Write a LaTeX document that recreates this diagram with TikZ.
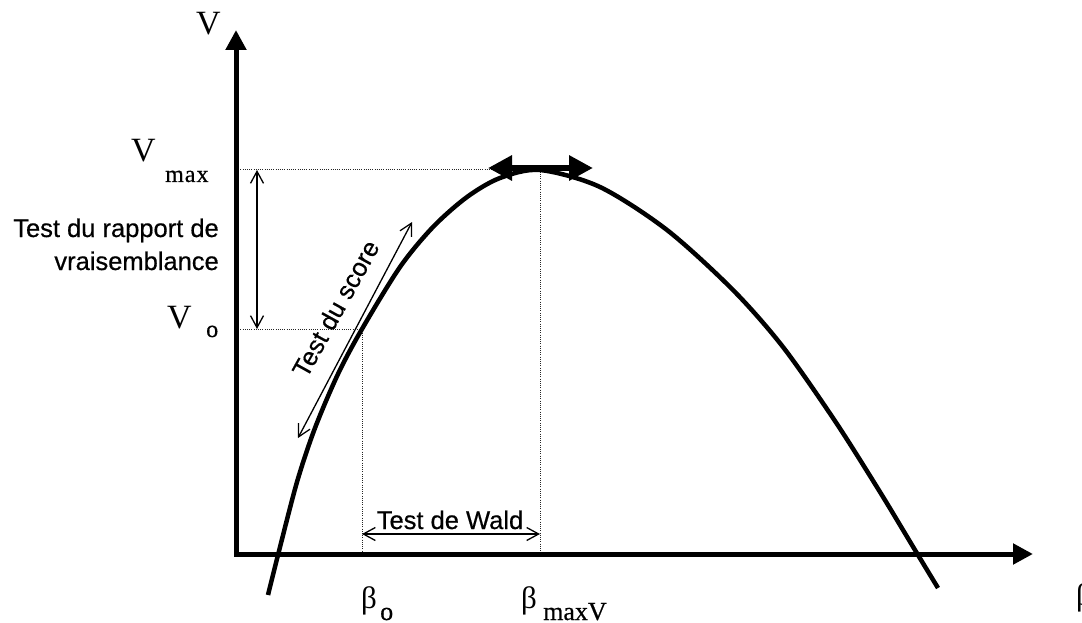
\documentclass[tikz,border=0pt]{standalone}
\usepackage{fontspec}
\setmainfont{Liberation Serif}
\newfontfamily\arialfont[FakeBold=0.5]{Liberation Sans}
\newfontfamily\subfont[FakeBold=0.6]{Liberation Serif}
\usetikzlibrary{arrows.meta}
\begin{document}
\begin{tikzpicture}[x=1pt,y=-1pt,
  axis/.style={line width=5pt, line join=miter,
    {Triangle[length=20pt,width=20pt]}-{Triangle[length=20pt,width=20pt]}},
  curveline/.style={line width=4.5pt, line cap=butt},
  guide/.style={line width=1pt, dash pattern=on 1pt off 1.2pt, black!85},
  thinarrow/.style={line width=1.3pt,
    {Straight Barb[length=12pt,width=13pt]}-{Straight Barb[length=12pt,width=13pt]}},
  thickarrow/.style={line width=6pt,
    {Triangle[length=24pt,width=24pt]}-{Triangle[length=24pt,width=24pt]}},
  biglab/.style={inner sep=0pt, font=\fontsize{34}{40}\selectfont},
  betalab/.style={inner sep=0pt, font=\fontsize{31}{36}\selectfont},
  sublab/.style={inner sep=0pt, font=\subfont\fontsize{24}{28}\selectfont},
  bsublab/.style={inner sep=0pt, font=\subfont\fontsize{26}{30}\selectfont},
  sanslab/.style={inner sep=0pt, font=\arialfont\fontsize{25.5}{30}\selectfont}
]
\useasboundingbox (0,0) rectangle (1082,623);

% key coordinates
\coordinate (ytip) at (236,30);
\coordinate (orig) at (236,554);
\coordinate (xtip) at (1033,554);
\coordinate (ymax) at (236,170);
\coordinate (yo) at (236,329);
\coordinate (peak) at (540,170);
\coordinate (po) at (362,329);
\coordinate (bmax) at (540,554);
\coordinate (bo) at (362,554);
\coordinate (lrtop) at (257,170);
\coordinate (lrbot) at (257,329);
\coordinate (scorelo) at (298,438);
\coordinate (scorehi) at (412,222);
\coordinate (waldl) at (362,534);
\coordinate (waldr) at (540,534);
\coordinate (topl) at (488,168);
\coordinate (topr) at (593,168);

% guide lines
\draw[guide] (ymax) -- (peak) -- (bmax);
\draw[guide] (yo) -- (po) -- (bo);

% axes
\draw[axis] (ytip) -- (orig) -- (xtip);

% curve
\draw[curveline] plot[smooth, tension=0.5] coordinates {
  (268,595) (278,555) (297,482) (315,428) (338,374) (362,329)
  (400,267) (433,227) (467,197) (500,178) (540,170) (600,187)
  (667,230) (733,290) (783,347) (835,421) (880,492) (918,555) (938,588)};

% arrows
\draw[thinarrow] (lrtop) -- (lrbot);
\draw[thinarrow] (scorelo) -- (scorehi);
\draw[thinarrow] (waldl) -- (waldr);
\draw[thickarrow] (topl) -- (topr);

% labels
\node[biglab, anchor=base] (V) at (208.5,35) {V};
\node[biglab, anchor=base west] (Vmax) at (131,161) {V};
\node[sublab, anchor=base west] (Vmaxs) at (165,182) {m\kern1pt a\kern1pt x};
\node[biglab, anchor=base west] (Vo) at (167,328) {V};
\node[sublab, anchor=base west] (Vos) at (206,337) {o};

\node[betalab, anchor=base west] (bo1) at (361,608) {β};
\node[bsublab, anchor=base west] (bos) at (380,620) {o};
\node[betalab, anchor=base west] (bm1) at (521,608) {β};
\node[bsublab, anchor=base west] (bms) at (543,620) {maxV};
\node[betalab, anchor=base west] (bx) at (1076,605) {β};

\node[sanslab, anchor=base east] (rv1) at (219,237) {Test du rapport de};
\node[sanslab, anchor=base east] (rv2) at (219,270) {vraisemblance};
\node[sanslab, anchor=base] (wald) at (450,529) {Test de Wald};
\node[sanslab, rotate=61] (score) at (335.5,308.5) {Test du score};
\end{tikzpicture}
\end{document}
